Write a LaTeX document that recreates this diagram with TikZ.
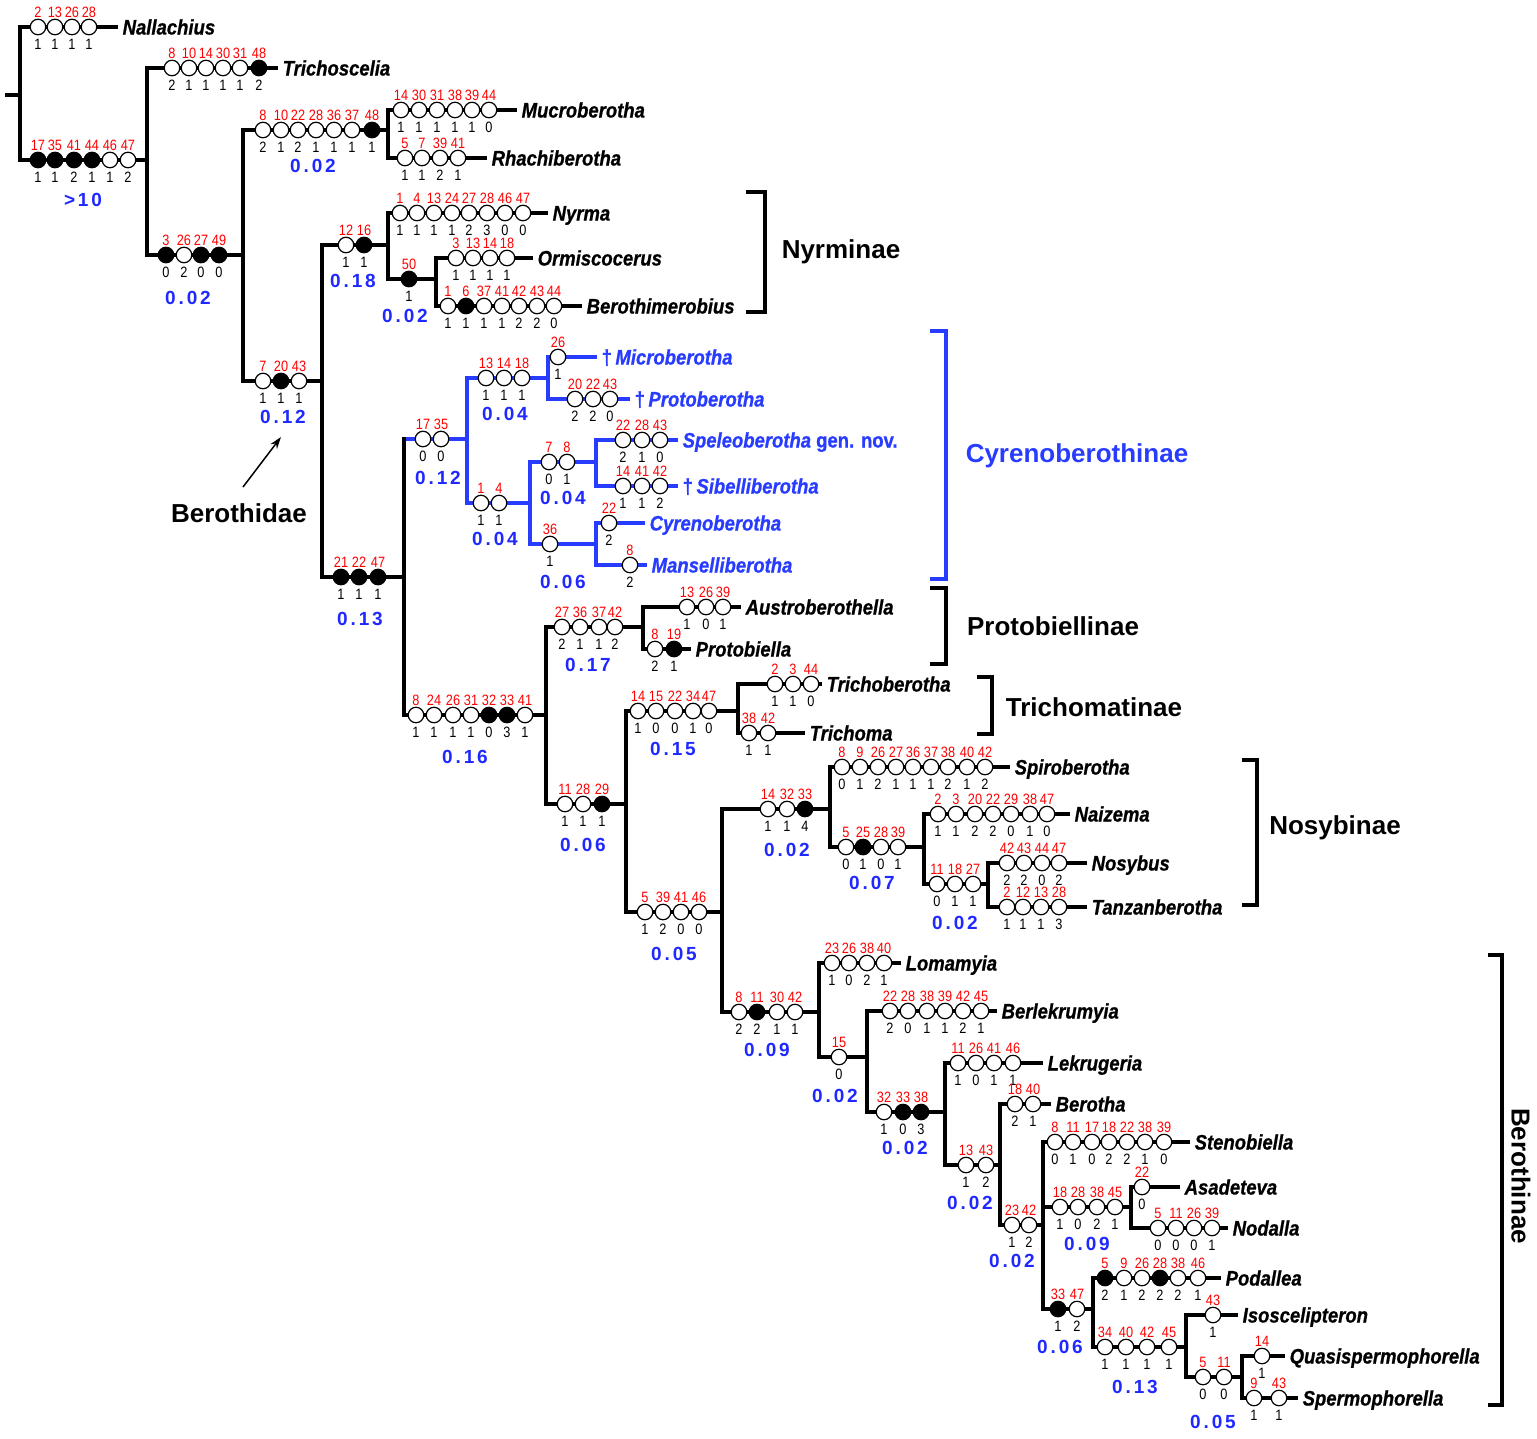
\documentclass[tikz,border=0pt]{standalone}
\usepackage{fontspec}
\setmainfont{Liberation Sans}
\newfontfamily\taxfont{Liberation Sans}[FakeStretch=0.88, FakeBold=0.8]
\newfontfamily\numfont{Liberation Sans}[FakeStretch=0.85]
\newfontfamily\supfont{Liberation Sans}[LetterSpace=15]
\usetikzlibrary{arrows.meta}
\definecolor{cyrblue}{RGB}{40,60,255}
\definecolor{supblue}{RGB}{30,40,255}
\colorlet{chro}{white}
\colorlet{chrf}{black}

\tikzset{
  br/.style={line width=4.5pt, line join=miter},
  cyr/.style={br, cyrblue},
  chr/.style={circle, draw=black, line width=1.2pt, minimum size=15.5pt, inner sep=0pt},
  chrnum/.style={font=\numfont\fontsize{15}{15}\selectfont, text=red, inner sep=0pt},
  stnum/.style={font=\numfont\fontsize{15}{15}\selectfont, inner sep=0pt},
  supp/.style={font=\supfont\bfseries\fontsize{19}{19}\selectfont, text=supblue, inner sep=0pt},
  taxon/.style={font=\taxfont\bfseries\itshape\fontsize{21}{21}\selectfont, anchor=west,
    inner xsep=4.5pt, inner ysep=0pt, text height=15pt, text depth=0pt},
  cyrtaxon/.style={taxon, text=cyrblue},
  grp/.style={font=\bfseries\fontsize{26}{26}\selectfont, inner sep=0pt},
  brk/.style={line width=4pt, line join=miter},
}

% caracteres sobre una rama: nombre, y, lista x/caracter/estado/tipo (o,f)
\newcommand{\chrs}[3]{%
  \foreach \x/\c/\s/\f in {#3} {
    \node[chr, fill=chr\f] (#1-\c) at (\x,#2) {};
    \node[chrnum] (#1-\c-n) at (\x,#2-15) {\c};
    \node[stnum] (#1-\c-s) at (\x,#2+17.5) {\s};
  }}

\begin{document}
\begin{tikzpicture}[x=1pt, y=-1pt]
        \useasboundingbox (0,0) rectangle (1537,1438);

        % Nodos internos
        \coordinate (stub) at (5,95);
        \coordinate (R) at (20,95);
        \coordinate (nA) at (147,160);
        \coordinate (nB) at (243,255);
        \coordinate (nC) at (388,130);
        \coordinate (nD) at (322,381);
        \coordinate (nE) at (388,245);
        \coordinate (nG) at (436,279);
        \coordinate (nF) at (404,577);
        \coordinate (nH) at (467,439);
        \coordinate (nJ) at (548,378);
        \coordinate (nK) at (530,503);
        \coordinate (nL) at (596,462);
        \coordinate (nM) at (596,544);
        \coordinate (nI) at (546,715);
        \coordinate (nN) at (643,627);
        \coordinate (nO) at (626,804);
        \coordinate (nP) at (738,711);
        \coordinate (nQ) at (722,912);
        \coordinate (nS) at (830,809);
        \coordinate (nU) at (924,847);
        \coordinate (nV) at (988,884);
        \coordinate (nT) at (819,1012);
        \coordinate (nW) at (867,1057);
        \coordinate (nX) at (945,1112);
        \coordinate (nY) at (1000,1165);
        \coordinate (nZ) at (1043,1225);
        \coordinate (nAA) at (1131,1207);
        \coordinate (nAB) at (1093,1309);
        \coordinate (nAC) at (1186,1347);
        \coordinate (nAD) at (1242,1377);

        % Terminales
        \node[taxon] (nal) at (118,27) {Nallachius};
        \node[taxon] (tri) at (278,68) {Trichoscelia};
        \node[taxon] (muc) at (517,110) {Mucroberotha};
        \node[taxon] (rha) at (487,158) {Rhachiberotha};
        \node[taxon] (nyr) at (548,213) {Nyrma};
        \node[taxon] (orm) at (533,258) {Ormiscocerus};
        \node[taxon] (bme) at (582,306) {Berothimerobius};
        \node[cyrtaxon] (mic) at (597,357) {{\upshape †}\,Microberotha};
        \node[cyrtaxon] (pro) at (630,399) {{\upshape †}\,Protoberotha};
        \node[cyrtaxon] (spe) at (678,440) {Speleoberotha{\upshape\taxfont\bfseries{} gen. nov.}};
        \node[cyrtaxon] (sib) at (678,486) {{\upshape †}\,Sibelliberotha};
        \node[cyrtaxon] (cyo) at (645,523) {Cyrenoberotha};
        \node[cyrtaxon] (man) at (647,565) {Manselliberotha};
        \node[taxon] (aus) at (741,607) {Austroberothella};
        \node[taxon] (prb) at (691,649) {Protobiella};
        \node[taxon] (trb) at (822,684) {Trichoberotha};
        \node[taxon] (trm) at (805,733) {Trichoma};
        \node[taxon] (spi) at (1010,767) {Spiroberotha};
        \node[taxon] (nai) at (1070,814) {Naizema};
        \node[taxon] (nos) at (1087,863) {Nosybus};
        \node[taxon] (tan) at (1087,907) {Tanzanberotha};
        \node[taxon] (lom) at (901,963) {Lomamyia};
        \node[taxon] (ber) at (997,1011) {Berlekrumyia};
        \node[taxon] (lek) at (1043,1063) {Lekrugeria};
        \node[taxon] (bea) at (1051,1104) {Berotha};
        \node[taxon] (ste) at (1190,1142) {Stenobiella};
        \node[taxon] (asa) at (1180,1187) {Asadeteva};
        \node[taxon] (nod) at (1228,1228) {Nodalla};
        \node[taxon] (pod) at (1221,1278) {Podallea};
        \node[taxon] (iso) at (1238,1315) {Isoscelipteron};
        \node[taxon] (qua) at (1285,1356) {Quasispermophorella};
        \node[taxon] (spm) at (1298,1398) {Spermophorella};

        % Ramas
        \draw[br] (stub) -- (R);
        \draw[br] (nal) -- (R |- nal) -- (R |- nA) -- (nA);
        \draw[br] (tri) -- (nA |- tri) -- (nA |- nB) -- (nB);
        \draw[br] (nC) -- (nB |- nC) -- (nB |- nD) -- (nD);
        \draw[br] (muc) -- (nC |- muc) -- (nC |- rha) -- (rha);
        \draw[br] (nE) -- (nD |- nE) -- (nD |- nF) -- (nF);
        \draw[br] (nyr) -- (nE |- nyr) -- (nE |- nG) -- (nG);
        \draw[br] (orm) -- (nG |- orm) -- (nG |- bme) -- (bme);
        \draw[cyr] (nF |- nH) -- (nH);
        \draw[br, line cap=rect] (nF |- nH) -- (nF |- nI) -- (nI);
        \draw[cyr] (nJ) -- (nH |- nJ) -- (nH |- nK) -- (nK);
        \draw[cyr] (mic) -- (nJ |- mic) -- (nJ |- pro) -- (pro);
        \draw[cyr] (nL) -- (nK |- nL) -- (nK |- nM) -- (nM);
        \draw[cyr] (spe) -- (nL |- spe) -- (nL |- sib) -- (sib);
        \draw[cyr] (cyo) -- (nM |- cyo) -- (nM |- man) -- (man);
        \draw[br] (nN) -- (nI |- nN) -- (nI |- nO) -- (nO);
        \draw[br] (aus) -- (nN |- aus) -- (nN |- prb) -- (prb);
        \draw[br] (nP) -- (nO |- nP) -- (nO |- nQ) -- (nQ);
        \draw[br] (trb) -- (nP |- trb) -- (nP |- trm) -- (trm);
        \draw[br] (nS) -- (nQ |- nS) -- (nQ |- nT) -- (nT);
        \draw[br] (spi) -- (nS |- spi) -- (nS |- nU) -- (nU);
        \draw[br] (nai) -- (nU |- nai) -- (nU |- nV) -- (nV);
        \draw[br] (nos) -- (nV |- nos) -- (nV |- tan) -- (tan);
        \draw[br] (lom) -- (nT |- lom) -- (nT |- nW) -- (nW);
        \draw[br] (ber) -- (nW |- ber) -- (nW |- nX) -- (nX);
        \draw[br] (lek) -- (nX |- lek) -- (nX |- nY) -- (nY);
        \draw[br] (bea) -- (nY |- bea) -- (nY |- nZ) -- (nZ);
        \draw[br] (ste) -- (nZ |- ste) -- (nZ |- nAB) -- (nAB);
        \draw[br] (nZ |- nAA) -- (nAA);
        \draw[br] (asa) -- (nAA |- asa) -- (nAA |- nod) -- (nod);
        \draw[br] (pod) -- (nAB |- pod) -- (nAB |- nAC) -- (nAC);
        \draw[br] (iso) -- (nAC |- iso) -- (nAC |- nAD) -- (nAD);
        \draw[br] (qua) -- (nAD |- qua) -- (nAD |- spm) -- (spm);

        % Caracteres
        \chrs{nal}{27}{38/2/1/o, 55/13/1/o, 72/26/1/o, 89/28/1/o}
        \chrs{nA}{160}{38/17/1/f, 55/35/1/f, 74/41/2/f, 92/44/1/f, 110/46/1/o, 128/47/2/o}
        \chrs{tri}{68}{172/8/2/o, 189/10/1/o, 206/14/1/o, 223/30/1/o, 240/31/1/o, 259/48/2/f}
        \chrs{nB}{255}{166/3/0/f, 184/26/2/o, 201/27/0/f, 219/49/0/f}
        \chrs{nC}{130}{263/8/2/o, 281/10/1/o, 298/22/2/o, 316/28/1/o, 334/36/1/o, 352/37/1/o, 372/48/1/f}
        \chrs{muc}{110}{401/14/1/o, 419/30/1/o, 437/31/1/o, 455/38/1/o, 472/39/1/o, 489/44/0/o}
        \chrs{rha}{158}{405/5/1/o, 422/7/1/o, 440/39/2/o, 458/41/1/o}
        \chrs{nD}{381}{263/7/1/o, 281/20/1/f, 299/43/1/o}
        \chrs{nE}{245}{346/12/1/o, 364/16/1/f}
        \chrs{nyr}{213}{400/1/1/o, 417/4/1/o, 434/13/1/o, 452/24/1/o, 469/27/2/o, 487/28/3/o, 505/46/0/o, 523/47/0/o}
        \chrs{nG}{279}{409/50/1/f}
        \chrs{orm}{258}{456/3/1/o, 473/13/1/o, 490/14/1/o, 507/18/1/o}
        \chrs{bme}{306}{448/1/1/o, 466/6/1/f, 484/37/1/o, 502/41/1/o, 519/42/2/o, 537/43/2/o, 554/44/0/o}
        \chrs{nF}{577}{341/21/1/f, 359/22/1/f, 378/47/1/f}
        \chrs{nH}{439}{423/17/0/o, 441/35/0/o}
        \chrs{nJ}{378}{486/13/1/o, 504/14/1/o, 522/18/1/o}
        \chrs{mic}{357}{558/26/1/o}
        \chrs{pro}{399}{575/20/2/o, 593/22/2/o, 610/43/0/o}
        \chrs{nK}{503}{481/1/1/o, 499/4/1/o}
        \chrs{nL}{462}{549/7/0/o, 567/8/1/o}
        \chrs{spe}{440}{623/22/2/o, 642/28/1/o, 660/43/0/o}
        \chrs{sib}{486}{623/14/1/o, 642/41/1/o, 660/42/2/o}
        \chrs{nM}{544}{550/36/1/o}
        \chrs{cyo}{523}{609/22/2/o}
        \chrs{man}{565}{630/8/2/o}
        \chrs{nI}{715}{416/8/1/o, 434/24/1/o, 453/26/1/o, 471/31/1/o, 489/32/0/f, 507/33/3/f, 525/41/1/o}
        \chrs{nN}{627}{562/27/2/o, 580/36/1/o, 599/37/1/o, 615/42/2/o}
        \chrs{aus}{607}{687/13/1/o, 706/26/0/o, 723/39/1/o}
        \chrs{prb}{649}{655/8/2/o, 674/19/1/f}
        \chrs{nO}{804}{565/11/1/o, 583/28/1/o, 602/29/1/f}
        \chrs{nP}{711}{638/14/1/o, 656/15/0/o, 675/22/0/o, 693/34/1/o, 709/47/0/o}
        \chrs{trb}{684}{775/2/1/o, 793/3/1/o, 811/44/0/o}
        \chrs{trm}{733}{749/38/1/o, 768/42/1/o}
        \chrs{nQ}{912}{645/5/1/o, 663/39/2/o, 681/41/0/o, 699/46/0/o}
        \chrs{nS}{809}{768/14/1/o, 787/32/1/o, 805/33/4/f}
        \chrs{spi}{767}{842/8/0/o, 860/9/1/o, 878/26/2/o, 896/27/1/o, 913/36/1/o, 931/37/1/o, 948/38/2/o, 967/40/1/o, 985/42/2/o}
        \chrs{nU}{847}{846/5/0/o, 863/25/1/f, 881/28/0/o, 898/39/1/o}
        \chrs{nai}{814}{938/2/1/o, 956/3/1/o, 975/20/2/o, 993/22/2/o, 1011/29/0/o, 1030/38/1/o, 1047/47/0/o}
        \chrs{nV}{884}{937/11/0/o, 955/18/1/o, 973/27/1/o}
        \chrs{nos}{863}{1007/42/2/o, 1024/43/2/o, 1042/44/0/o, 1059/47/2/o}
        \chrs{tan}{907}{1007/2/1/o, 1023/12/1/o, 1041/13/1/o, 1059/28/3/o}
        \chrs{nT}{1012}{739/8/2/o, 757/11/2/f, 777/30/1/o, 795/42/1/o}
        \chrs{lom}{963}{832/23/1/o, 849/26/0/o, 867/38/2/o, 884/40/1/o}
        \chrs{nW}{1057}{839/15/0/o}
        \chrs{ber}{1011}{890/22/2/o, 908/28/0/o, 927/38/1/o, 945/39/1/o, 963/42/2/o, 981/45/1/o}
        \chrs{nX}{1112}{884/32/1/o, 903/33/0/f, 921/38/3/f}
        \chrs{lek}{1063}{958/11/1/o, 976/26/0/o, 994/41/1/o, 1013/46/1/o}
        \chrs{nY}{1165}{966/13/1/o, 986/43/2/o}
        \chrs{bea}{1104}{1015/18/2/o, 1033/40/1/o}
        \chrs{nZ}{1225}{1012/23/1/o, 1029/42/2/o}
        \chrs{ste}{1142}{1055/8/0/o, 1073/11/1/o, 1092/17/0/o, 1109/18/2/o, 1127/22/2/o, 1145/38/1/o, 1164/39/0/o}
        \chrs{nAA}{1207}{1060/18/1/o, 1078/28/0/o, 1097/38/2/o, 1115/45/1/o}
        \chrs{asa}{1187}{1142/22/0/o}
        \chrs{nod}{1228}{1158/5/0/o, 1176/11/0/o, 1194/26/0/o, 1212/39/1/o}
        \chrs{nAB}{1309}{1058/33/1/f, 1077/47/2/o}
        \chrs{pod}{1278}{1105/5/2/f, 1124/9/1/o, 1142/26/2/o, 1160/28/2/f, 1178/38/2/o, 1198/46/1/o}
        \chrs{nAC}{1347}{1105/34/1/o, 1126/40/1/o, 1147/42/1/o, 1169/45/1/o}
        \chrs{iso}{1315}{1213/43/1/o}
        \chrs{nAD}{1377}{1203/5/0/o, 1224/11/0/o}
        \chrs{qua}{1356}{1262/14/1/o}
        \chrs{spm}{1398}{1254/9/1/o, 1279/43/1/o}

        % Valores de soporte
        \foreach \n/\x/\y/\v in {nA/83/200/{>10}, nB/188/298/0.02, nC/313/166/0.02, nD/283/417/0.12,
            nE/353/281/0.18, nG/405/316/0.02, nF/360/619/0.13, nH/438/478/0.12, nJ/505/414/0.04,
            nK/495/539/0.04, nL/563/498/0.04, nM/563/582/0.06, nI/465/757/0.16, nN/588/665/0.17,
            nO/583/845/0.06, nP/673/749/0.15, nS/787/850/0.02, nU/872/883/0.07, nV/955/923/0.02,
            nQ/674/954/0.05, nT/767/1050/0.09, nW/835/1096/0.02, nX/905/1148/0.02, nY/970/1203/0.02,
            nZ/1012/1261/0.02, nAA/1087/1244/0.09, nAB/1060/1347/0.06, nAC/1135/1387/0.13,
            nAD/1213/1422/0.05} {
            \node[supp] (\n-bs) at (\x,\y) {\v};
        }

        % Grupos
        \draw[brk] (746,192) -- (765,192) -- (765,312) -- (746,312);
        \node[grp] (nyrm) at (841,252) {Nyrminae};
        \draw[brk, cyrblue] (930,331) -- (946,331) -- (946,579) -- (930,579);
        \node[grp, text=cyrblue] (cyrb) at (1077,456) {Cyrenoberothinae};
        \draw[brk] (930,588) -- (946,588) -- (946,664) -- (930,664);
        \node[grp] (prot) at (1053,626) {Protobiellinae};
        \draw[brk] (977,677) -- (992,677) -- (992,734) -- (977,734);
        \node[grp] (trich) at (1094,707) {Trichomatinae};
        \draw[brk] (1242,760) -- (1257,760) -- (1257,905) -- (1242,905);
        \node[grp] (nosy) at (1335,828) {Nosybinae};
        \draw[brk] (1488,955) -- (1502,955) -- (1502,1405) -- (1488,1405);
        \node[grp, rotate=-90] (beroi) at (1521,1176) {Berothinae};

        % Berothidae
        \node[grp] (bdae) at (239,513) {Berothidae};
        \coordinate (arrS) at (243,487);
        \coordinate (arrE) at (281,437);
        \draw[line width=1.5pt, -{Stealth[length=12pt, width=8pt]}] (arrS) -- (arrE);
    \end{tikzpicture}
\end{document}
